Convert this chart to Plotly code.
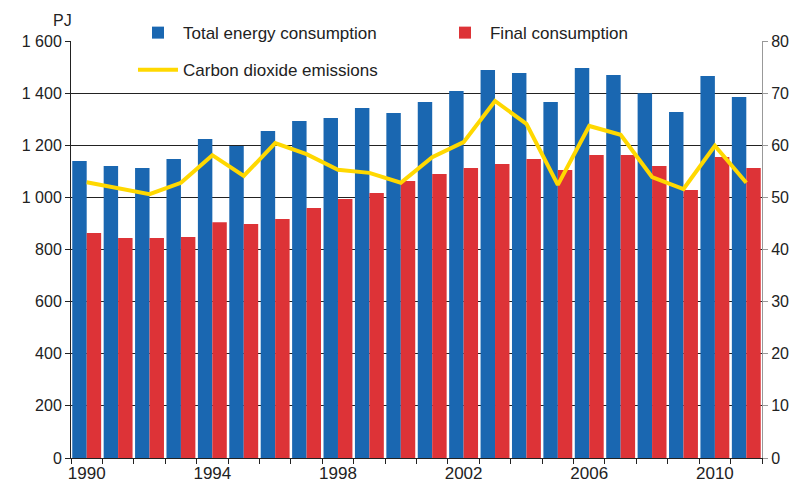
import plotly.graph_objects as go

years = list(range(1990, 2012))
total_energy = [1140, 1120, 1113, 1147, 1224, 1197, 1255, 1293, 1305, 1343, 1324,
                1366, 1408, 1489, 1477, 1366, 1496, 1470, 1400, 1328, 1466, 1385]
final_consumption = [863, 844, 844, 848, 905, 898, 917, 959, 994, 1017, 1063,
                     1090, 1113, 1128, 1147, 1105, 1163, 1163, 1120, 1028, 1155, 1113]
co2_emissions = [52.9, 51.8, 50.6, 52.8, 58.1, 54.1, 60.4, 58.3, 55.3, 54.7, 52.8,
                 57.7, 60.6, 68.5, 64.1, 52.4, 63.7, 62.0, 53.9, 51.6, 59.9, 52.8]

left_ticks = [0, 200, 400, 600, 800, 1000, 1200, 1400, 1600]
left_labels = ["0", "200", "400", "600", "800", "1 000", "1 200", "1 400", "1 600"]
right_ticks = [0, 10, 20, 30, 40, 50, 60, 70, 80]
x_labels = [str(y) if (y - 1990) % 4 == 0 else "" for y in years]

BLUE = "#1a67b1"
RED = "#dd3337"
YELLOW = "#ffd800"
FONT = "Liberation Sans, Arial, sans-serif"

xcats = [str(y) for y in years]

fig = go.Figure()
fig.add_trace(go.Bar(x=xcats, y=total_energy, name="Total energy consumption",
                     marker=dict(color=BLUE, line=dict(width=0)), legend="legend"))
fig.add_trace(go.Bar(x=xcats, y=final_consumption, name="Final consumption",
                     marker=dict(color=RED, line=dict(width=0)), legend="legend"))
fig.add_trace(go.Scatter(x=xcats, y=co2_emissions, name="Carbon dioxide emissions",
                         mode="lines", line=dict(color=YELLOW, width=4),
                         yaxis="y2", legend="legend2"))

fig.update_layout(
    width=793, height=486,
    margin=dict(l=71, r=31, t=41, b=28, autoexpand=False),
    paper_bgcolor="white", plot_bgcolor="white",
    font=dict(family=FONT, size=16, color="#222222"),
    barmode="group", bargap=0.08, bargroupgap=0.0,
    xaxis=dict(type="category", tickvals=xcats, ticktext=x_labels,
               tickson="boundaries", ticks="outside", ticklen=5,
               tickcolor="#222222", showline=True, linecolor="#222222",
               linewidth=1, showgrid=False, tickangle=0,
               tickfont=dict(size=17)),
    yaxis=dict(range=[0, 1600], tickvals=left_ticks, ticktext=left_labels,
               ticks="outside", ticklen=5, tickcolor="#222222",
               showline=True, linecolor="#222222", linewidth=1,
               showgrid=True, gridcolor="#222222", gridwidth=1,
               zeroline=False, tickfont=dict(size=16)),
    yaxis2=dict(range=[0, 80], tickvals=right_ticks, overlaying="y", side="right",
                ticks="outside", ticklen=5, tickcolor="#999999",
                showline=True, linecolor="#999999", linewidth=1,
                showgrid=False, zeroline=False, tickfont=dict(size=16)),
    legend=dict(orientation="h", x=0.0897, y=1.019, xanchor="left", yanchor="middle",
                entrywidth=252, entrywidthmode="pixels", itemwidth=40,
                bgcolor="rgba(0,0,0,0)", font=dict(size=17), traceorder="normal"),
    legend2=dict(orientation="h", x=0.0897, y=0.930, xanchor="left", yanchor="middle",
                 itemwidth=40, bgcolor="rgba(0,0,0,0)", font=dict(size=17)),
    annotations=[dict(text="PJ", xref="paper", yref="paper", x=-0.013, y=1.048,
                      xanchor="center", yanchor="middle", showarrow=False,
                      font=dict(size=16))],
)

fig.write_html("out.html", config={"displayModeBar": False},
               post_script="document.body.style.margin='0';document.body.style.overflow='hidden';")
